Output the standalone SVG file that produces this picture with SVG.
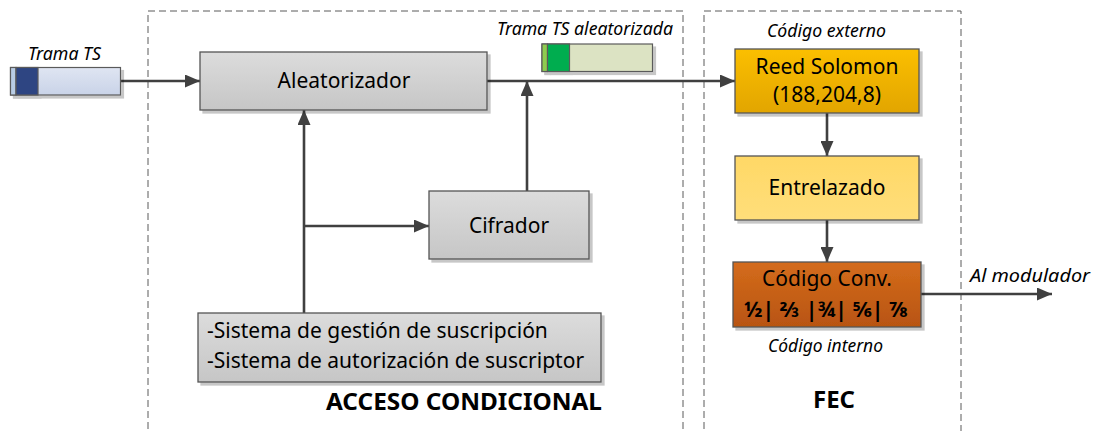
<svg xmlns="http://www.w3.org/2000/svg" width="1099" height="431" viewBox="0 0 1099 431">
<defs>
<linearGradient id="gGray" x1="0" y1="0" x2="0" y2="1"><stop offset="0" stop-color="#dcdcdc"/><stop offset="1" stop-color="#c6c6c6"/></linearGradient>
<linearGradient id="gRS" x1="0" y1="0" x2="0" y2="1"><stop offset="0" stop-color="#fbbf00"/><stop offset="1" stop-color="#e2a500"/></linearGradient>
<linearGradient id="gEnt" x1="0" y1="0" x2="0" y2="1"><stop offset="0" stop-color="#ffd866"/><stop offset="1" stop-color="#ffde7a"/></linearGradient>
<linearGradient id="gConv" x1="0" y1="0" x2="0" y2="1"><stop offset="0" stop-color="#d46c1c"/><stop offset="1" stop-color="#b85411"/></linearGradient>
<linearGradient id="gBlue" x1="0" y1="0" x2="0" y2="1"><stop offset="0" stop-color="#dfe5f2"/><stop offset="1" stop-color="#c9d3e8"/></linearGradient>
<marker id="arr" viewBox="0 0 15 13" refX="15" refY="6.5" markerWidth="15" markerHeight="13" markerUnits="userSpaceOnUse" orient="auto">
<path d="M0,0 L15,6.5 L0,13 Z" fill="#404040"/>
</marker>
<filter id="sh" x="-5%" y="-5%" width="115%" height="125%">
<feOffset in="SourceAlpha" dx="3" dy="3" result="o"/>
<feComponentTransfer in="o" result="t"><feFuncA type="linear" slope="0.22"/></feComponentTransfer>
<feMerge><feMergeNode in="t"/><feMergeNode in="SourceGraphic"/></feMerge>
</filter>
</defs>
<style>
.box{stroke:#555;stroke-width:1.3;filter:url(#sh)}
.t{font-family:"Noto Sans","Open Sans",sans-serif;font-size:21px;fill:#000;text-anchor:middle}
.it{font-family:"Noto Sans","Open Sans",sans-serif;font-size:17.5px;font-style:italic;fill:#000;text-anchor:middle}
.b{font-family:"Noto Sans","Open Sans",sans-serif;font-size:24px;font-weight:bold;fill:#000;text-anchor:middle}
.ln{stroke:#404040;stroke-width:2.6;fill:none}
.dash{stroke:#5a5a5a;stroke-width:1;fill:none;stroke-dasharray:7,4}
</style>
<rect width="1099" height="431" fill="#fff"/>

<g id="groups">
<path class="dash" d="M148,440 L148,11 L683,11 L683,440"/>
<path class="dash" d="M704,440 L704,11 L961,11 L961,440"/>
</g>

<g id="connectors">
<line class="ln" x1="121" y1="81" x2="200" y2="81" marker-end="url(#arr)"/>
<line class="ln" x1="487" y1="81" x2="735" y2="81" marker-end="url(#arr)"/>
<line class="ln" x1="304" y1="313" x2="304" y2="110" marker-end="url(#arr)"/>
<line class="ln" x1="304" y1="226" x2="429" y2="226" marker-end="url(#arr)"/>
<line class="ln" x1="527" y1="191" x2="527" y2="81" marker-end="url(#arr)"/>
<line class="ln" x1="827" y1="113" x2="827" y2="156" marker-end="url(#arr)"/>
<line class="ln" x1="827" y1="220" x2="827" y2="262" marker-end="url(#arr)"/>
<line class="ln" x1="921" y1="294" x2="1052" y2="294" marker-end="url(#arr)"/>
</g>

<g id="trama-ts">
<g filter="url(#sh)">
<rect x="10.5" y="67.5" width="110" height="27.5" fill="url(#gBlue)" stroke="#5a5a5a" stroke-width="1.2"/>
<rect x="10.5" y="67.5" width="5.5" height="27.5" fill="#b9cde5" stroke="#5a5a5a" stroke-width="1.2"/>
<rect x="16" y="67.5" width="22" height="27.5" fill="#2f4582" stroke="#5a5a5a" stroke-width="1.2"/>
</g>
<text class="it" x="64.5" y="60" textLength="73" lengthAdjust="spacingAndGlyphs">Trama TS</text>
</g>

<g id="trama-ts-aleatorizada">
<g filter="url(#sh)">
<rect x="542" y="44" width="110.5" height="27.5" fill="#dce3c3" stroke="#5a5a5a" stroke-width="1.2"/>
<rect x="542" y="44" width="5.5" height="27.5" fill="#8fcc4f" stroke="#5a5a5a" stroke-width="1.2"/>
<rect x="547.5" y="44" width="22" height="27.5" fill="#00ad4f" stroke="#5a5a5a" stroke-width="1.2"/>
</g>
<text class="it" x="585" y="35" textLength="176" lengthAdjust="spacingAndGlyphs">Trama TS aleatorizada</text>
</g>

<g id="aleatorizador">
<rect class="box" x="200" y="52" width="287" height="58" fill="url(#gGray)"/>
<text class="t" x="344" y="88">Aleatorizador</text>
</g>

<g id="cifrador">
<rect class="box" x="429" y="191" width="160" height="68" fill="url(#gGray)"/>
<text class="t" x="509" y="233">Cifrador</text>
</g>

<g id="sistemas">
<rect class="box" x="198" y="313" width="403" height="69" fill="url(#gGray)"/>
<text class="t" x="207" y="338" style="text-anchor:start">-Sistema de gestión de suscripción</text>
<text class="t" x="207" y="368" style="text-anchor:start">-Sistema de autorización de suscriptor</text>
</g>

<g id="reed-solomon">
<rect class="box" x="735" y="49" width="184" height="64" fill="url(#gRS)" stroke="#8a6a10"/>
<text class="t" x="827" y="74">Reed Solomon</text>
<text class="t" x="827" y="102">(188,204,8)</text>
<text class="it" x="826.5" y="37" textLength="119" lengthAdjust="spacingAndGlyphs">Código externo</text>
</g>

<g id="entrelazado">
<rect class="box" x="735" y="156" width="184" height="64" fill="url(#gEnt)"/>
<text class="t" x="827" y="195">Entrelazado</text>
</g>

<g id="codigo-conv">
<rect class="box" x="733" y="262" width="188" height="65" fill="url(#gConv)"/>
<text class="t" x="827" y="286">Código Conv.</text>
<text class="t" x="826" y="317" style="font-weight:bold;font-size:22px" textLength="164" lengthAdjust="spacingAndGlyphs">½| ⅔ |¾| ⅚| ⅞</text>
<text class="it" x="825.5" y="352" textLength="115" lengthAdjust="spacingAndGlyphs">Código interno</text>
</g>

<g id="labels">
<text class="it" x="1030" y="282" textLength="120" lengthAdjust="spacingAndGlyphs">Al modulador</text>
<text class="b" x="464" y="410" textLength="276" lengthAdjust="spacingAndGlyphs">ACCESO CONDICIONAL</text>
<text class="b" x="834" y="408">FEC</text>
</g>
</svg>
